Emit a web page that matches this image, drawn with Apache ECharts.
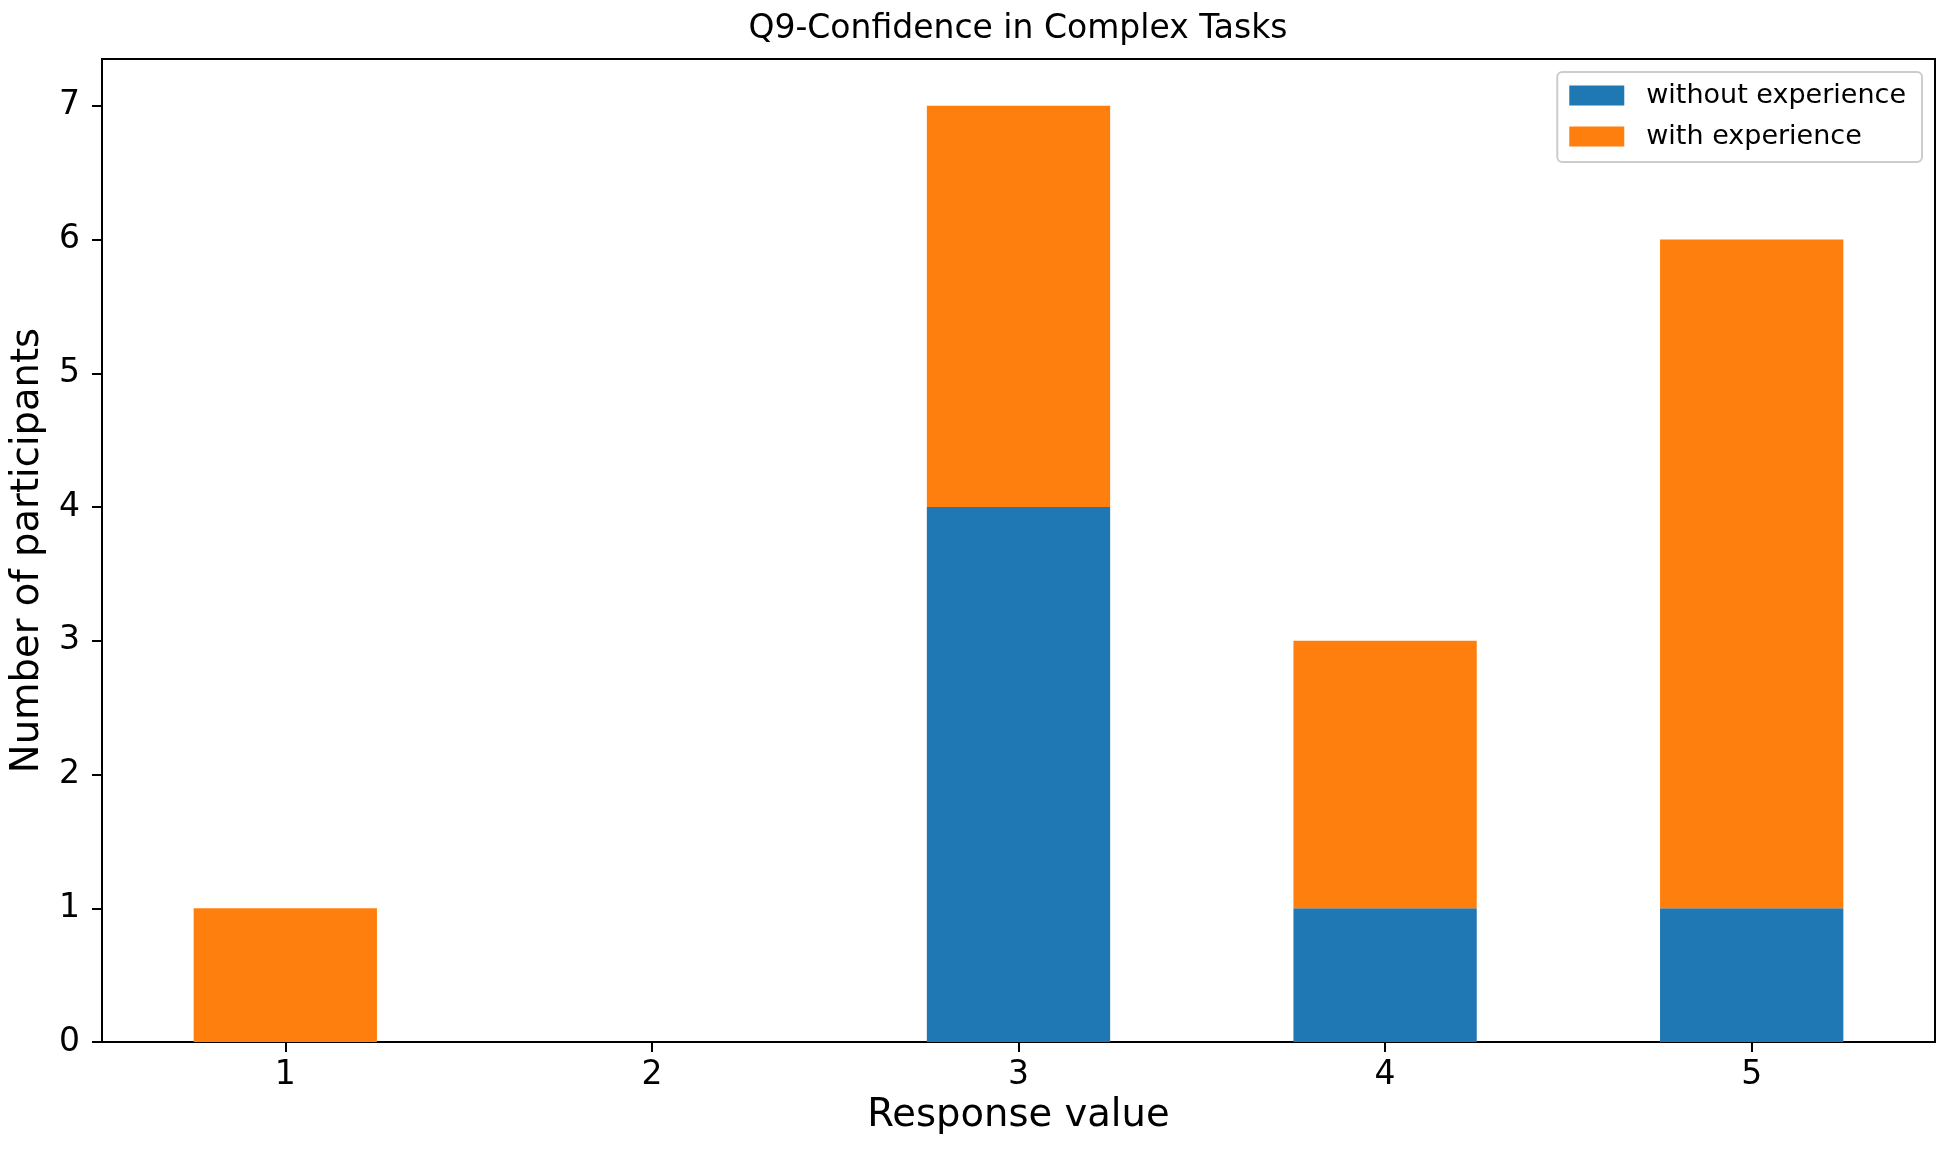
<!DOCTYPE html>
<html>
<head>
<meta charset="utf-8">
<script src="https://cdn.jsdelivr.net/npm/echarts@6/dist/echarts.min.js"></script>
<style>
html,body{margin:0;padding:0;background:#fff;}
#chart{width:1948px;height:1160px;}
</style>
</head>
<body>
<div id="chart"></div>
<script>
const categories = ['1', '2', '3', '4', '5'];
const withoutExperience = [0, 0, 4, 1, 1];
const withExperience = [1, 0, 3, 2, 5];
const yTicks = [0, 1, 2, 3, 4, 5, 6, 7];
const seriesNames = ['without experience', 'with experience'];
const titleText = 'Q9-Confidence in Complex Tasks';
const xName = 'Response value';
const yName = 'Number of participants';

const FONT = 'DejaVu Sans';
const chart = echarts.init(document.getElementById('chart'), null, {renderer: 'canvas'});
const option = {
  animation: false,
  backgroundColor: '#ffffff',
  textStyle: {fontFamily: FONT},
  title: {
    text: titleText,
    left: 1018,
    textAlign: 'center',
    top: 13,
    padding: 0,
    textStyle: {fontFamily: FONT, fontSize: 33, fontWeight: 'normal', color: '#000'}
  },
  legend: {
    data: seriesNames,
    orient: 'vertical',
    right: 26,
    top: 72,
    padding: [10, 16, 12, 12],
    itemWidth: 55,
    itemHeight: 20,
    itemGap: 14,
    icon: 'rect',
    backgroundColor: '#ffffff',
    borderColor: '#cccccc',
    borderWidth: 2,
    borderRadius: 5,
    textStyle: {fontFamily: FONT, fontSize: 27, color: '#000', lineHeight: 27, padding: [0, 0, 0, 17]}
  },
  grid: {
    left: 101, right: 13, top: 59, bottom: 118,
    show: true, borderColor: '#000', borderWidth: 2, backgroundColor: 'transparent',
    containLabel: false
  },
  xAxis: {
    type: 'category',
    data: categories,
    boundaryGap: true,
    name: xName,
    nameLocation: 'middle',
    nameGap: 51,
    nameTextStyle: {fontFamily: FONT, fontSize: 38.5, color: '#000'},
    axisLine: {show: true, lineStyle: {color: '#000', width: 2}},
    axisTick: {show: true, alignWithLabel: true, length: 10, lineStyle: {color: '#000', width: 2}},
    axisLabel: {fontFamily: FONT, fontSize: 33, color: '#000', margin: 17},
    splitLine: {show: false}
  },
  yAxis: {
    type: 'value',
    min: 0,
    max: 7.35,
    interval: 1,
    name: yName,
    nameLocation: 'middle',
    nameGap: 55,
    nameTextStyle: {fontFamily: FONT, fontSize: 38.5, color: '#000'},
    axisLine: {show: true, lineStyle: {color: '#000', width: 2}},
    axisTick: {show: true, length: 10, lineStyle: {color: '#000', width: 2}, customValues: yTicks},
    axisLabel: {fontFamily: FONT, fontSize: 33, color: '#000', margin: 22, customValues: yTicks},
    splitLine: {show: false}
  },
  series: [
    {
      name: seriesNames[0],
      type: 'bar',
      stack: 'total',
      barWidth: '50%',
      itemStyle: {color: '#1f77b4'},
      data: withoutExperience
    },
    {
      name: seriesNames[1],
      type: 'bar',
      stack: 'total',
      barWidth: '50%',
      itemStyle: {color: '#ff7f0e'},
      data: withExperience
    }
  ]
};
chart.setOption(option);
</script>
</body>
</html>
